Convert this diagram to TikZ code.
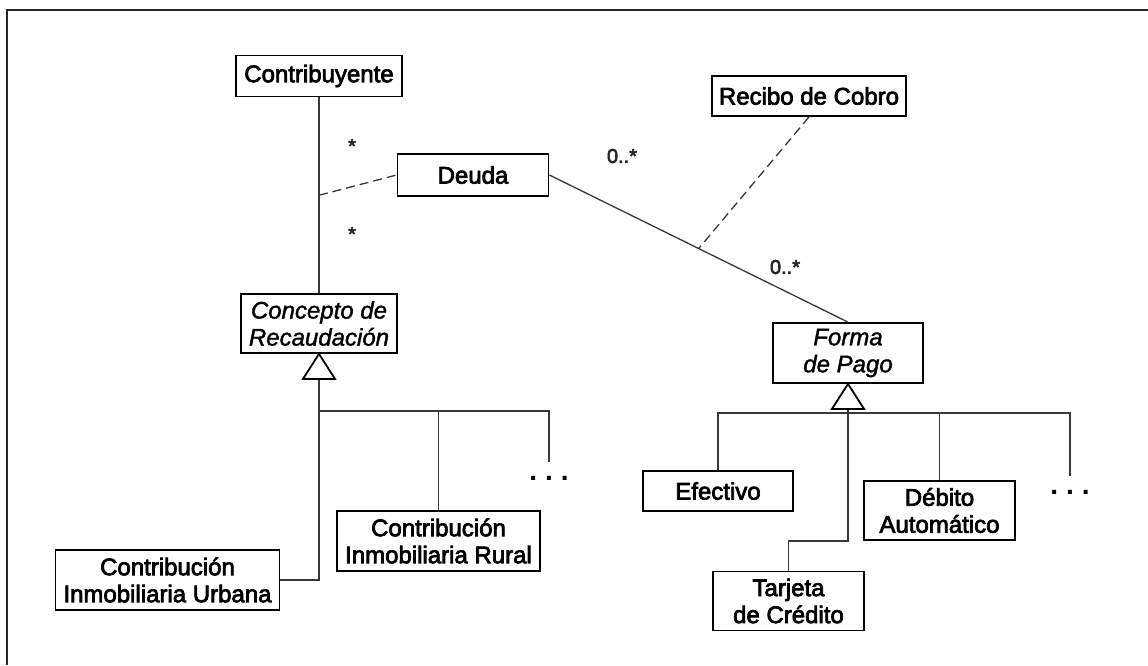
\documentclass[tikz,border=0pt]{standalone}
\usepackage{fontspec}
\setmainfont{Liberation Sans}[UprightFeatures={RawFeature={embolden=3}}, ItalicFeatures={RawFeature={embolden=1.5}}]
\usetikzlibrary{calc}
\tikzset{
  box/.style={draw=black, line width=1.8pt, rectangle, inner sep=0pt, align=center,
    font=\fontsize{24}{27}\selectfont},
  link/.style={draw=black!78, line width=1.3pt},
  dashlink/.style={link, dash pattern=on 9pt off 5pt},
  tri/.style={draw=black, line width=1.8pt, fill=white, line join=miter},
  mult/.style={inner sep=0pt, font=\fontsize{20}{22}\selectfont, text=black!85},
  dots/.style={inner sep=0pt, font=\fontsize{28}{30}\selectfont\bfseries}
}
\begin{document}
\begin{tikzpicture}[x=1pt,y=-1pt]
\useasboundingbox (0,0) rectangle (1148,665);
\draw[line width=2pt, black!85] (6.5,665) -- (6.5,9.5) -- (1148,9.5);

% classes
\node[box, minimum width=166pt, minimum height=41pt] (contrib) at (319,76) {Contribuyente};
\node[box, minimum width=151pt, minimum height=42pt] (deuda) at (473,175) {Deuda};
\node[box, minimum width=194pt, minimum height=40pt] (recibo) at (809,96) {Recibo de Cobro};
\node[box, minimum width=156pt, minimum height=59pt] (concepto) at (319,323.5) {\itshape Concepto de\\\itshape Recaudación};
\node[box, minimum width=150pt, minimum height=60pt] (forma) at (848,353) {\itshape Forma\\\itshape de Pago};
\node[box, minimum width=150pt, minimum height=40pt] (efectivo) at (718,491) {Efectivo};
\node[box, minimum width=151pt, minimum height=59pt] (debito) at (939.5,510.5) {Débito\\Automático};
\node[box, minimum width=151pt, minimum height=59pt] (tarjeta) at (788.5,601) {Tarjeta\\de Crédito};
\node[box, minimum width=203pt, minimum height=60pt] (rural) at (438.5,541) {Contribución\\Inmobiliaria Rural};
\node[box, minimum width=224pt, minimum height=60pt] (urbana) at (167.5,580) {Contribución\\Inmobiliaria Urbana};

% associations
\draw[link] (contrib.south) -- (concepto.north);
\coordinate (m1) at ($(contrib.south)!0.5!(concepto.north)$);
\draw[dashlink] (m1) -- (deuda.west);
\draw[link] (deuda.east) -- (forma.north);
\coordinate (m2) at ($(deuda.east)!0.5!(forma.north)$);
\draw[dashlink] (recibo.south) -- (m2);

\node[mult] (s1) at (352,146) {*};
\node[mult] (s2) at (352,234) {*};
\node[mult] (z1) at (622,156) {0..*};
\node[mult] (z2) at (785,267) {0..*};

% generalization: Concepto de Recaudacion
\coordinate (b1) at ($(concepto.south)+(0,25)$);
\coordinate (h1) at (319,411);
\coordinate (h1e) at (549,411);
\coordinate (d1) at (549,462);
\draw[link] (b1) |- (urbana.east);
\draw[link] (h1) -- (h1e) -- (d1);
\draw[link] (rural.north) -- (rural.north |- h1);
\draw[tri] (concepto.south) -- ($(b1)+(-16,0)$) -- ($(b1)+(16,0)$) -- cycle;
\node[dots] (dl) at (549,478) {.\hspace{8pt}.\hspace{8pt}.};

% generalization: Forma de Pago
\coordinate (b2) at ($(forma.south)+(0,25)$);
\coordinate (h2) at (1070,413);
\coordinate (d2) at (1070,476);
\coordinate (k2) at (848,541);
\draw[link] (b2) -- (k2) -| (tarjeta.north);
\draw[link] (efectivo.north) |- (h2) -- (d2);
\draw[link] (debito.north) -- (debito.north |- h2);
\draw[tri] (forma.south) -- ($(b2)+(-16,0)$) -- ($(b2)+(16,0)$) -- cycle;
\node[dots] (dr) at (1070,492) {.\hspace{8pt}.\hspace{8pt}.};
\end{tikzpicture}
\end{document}
